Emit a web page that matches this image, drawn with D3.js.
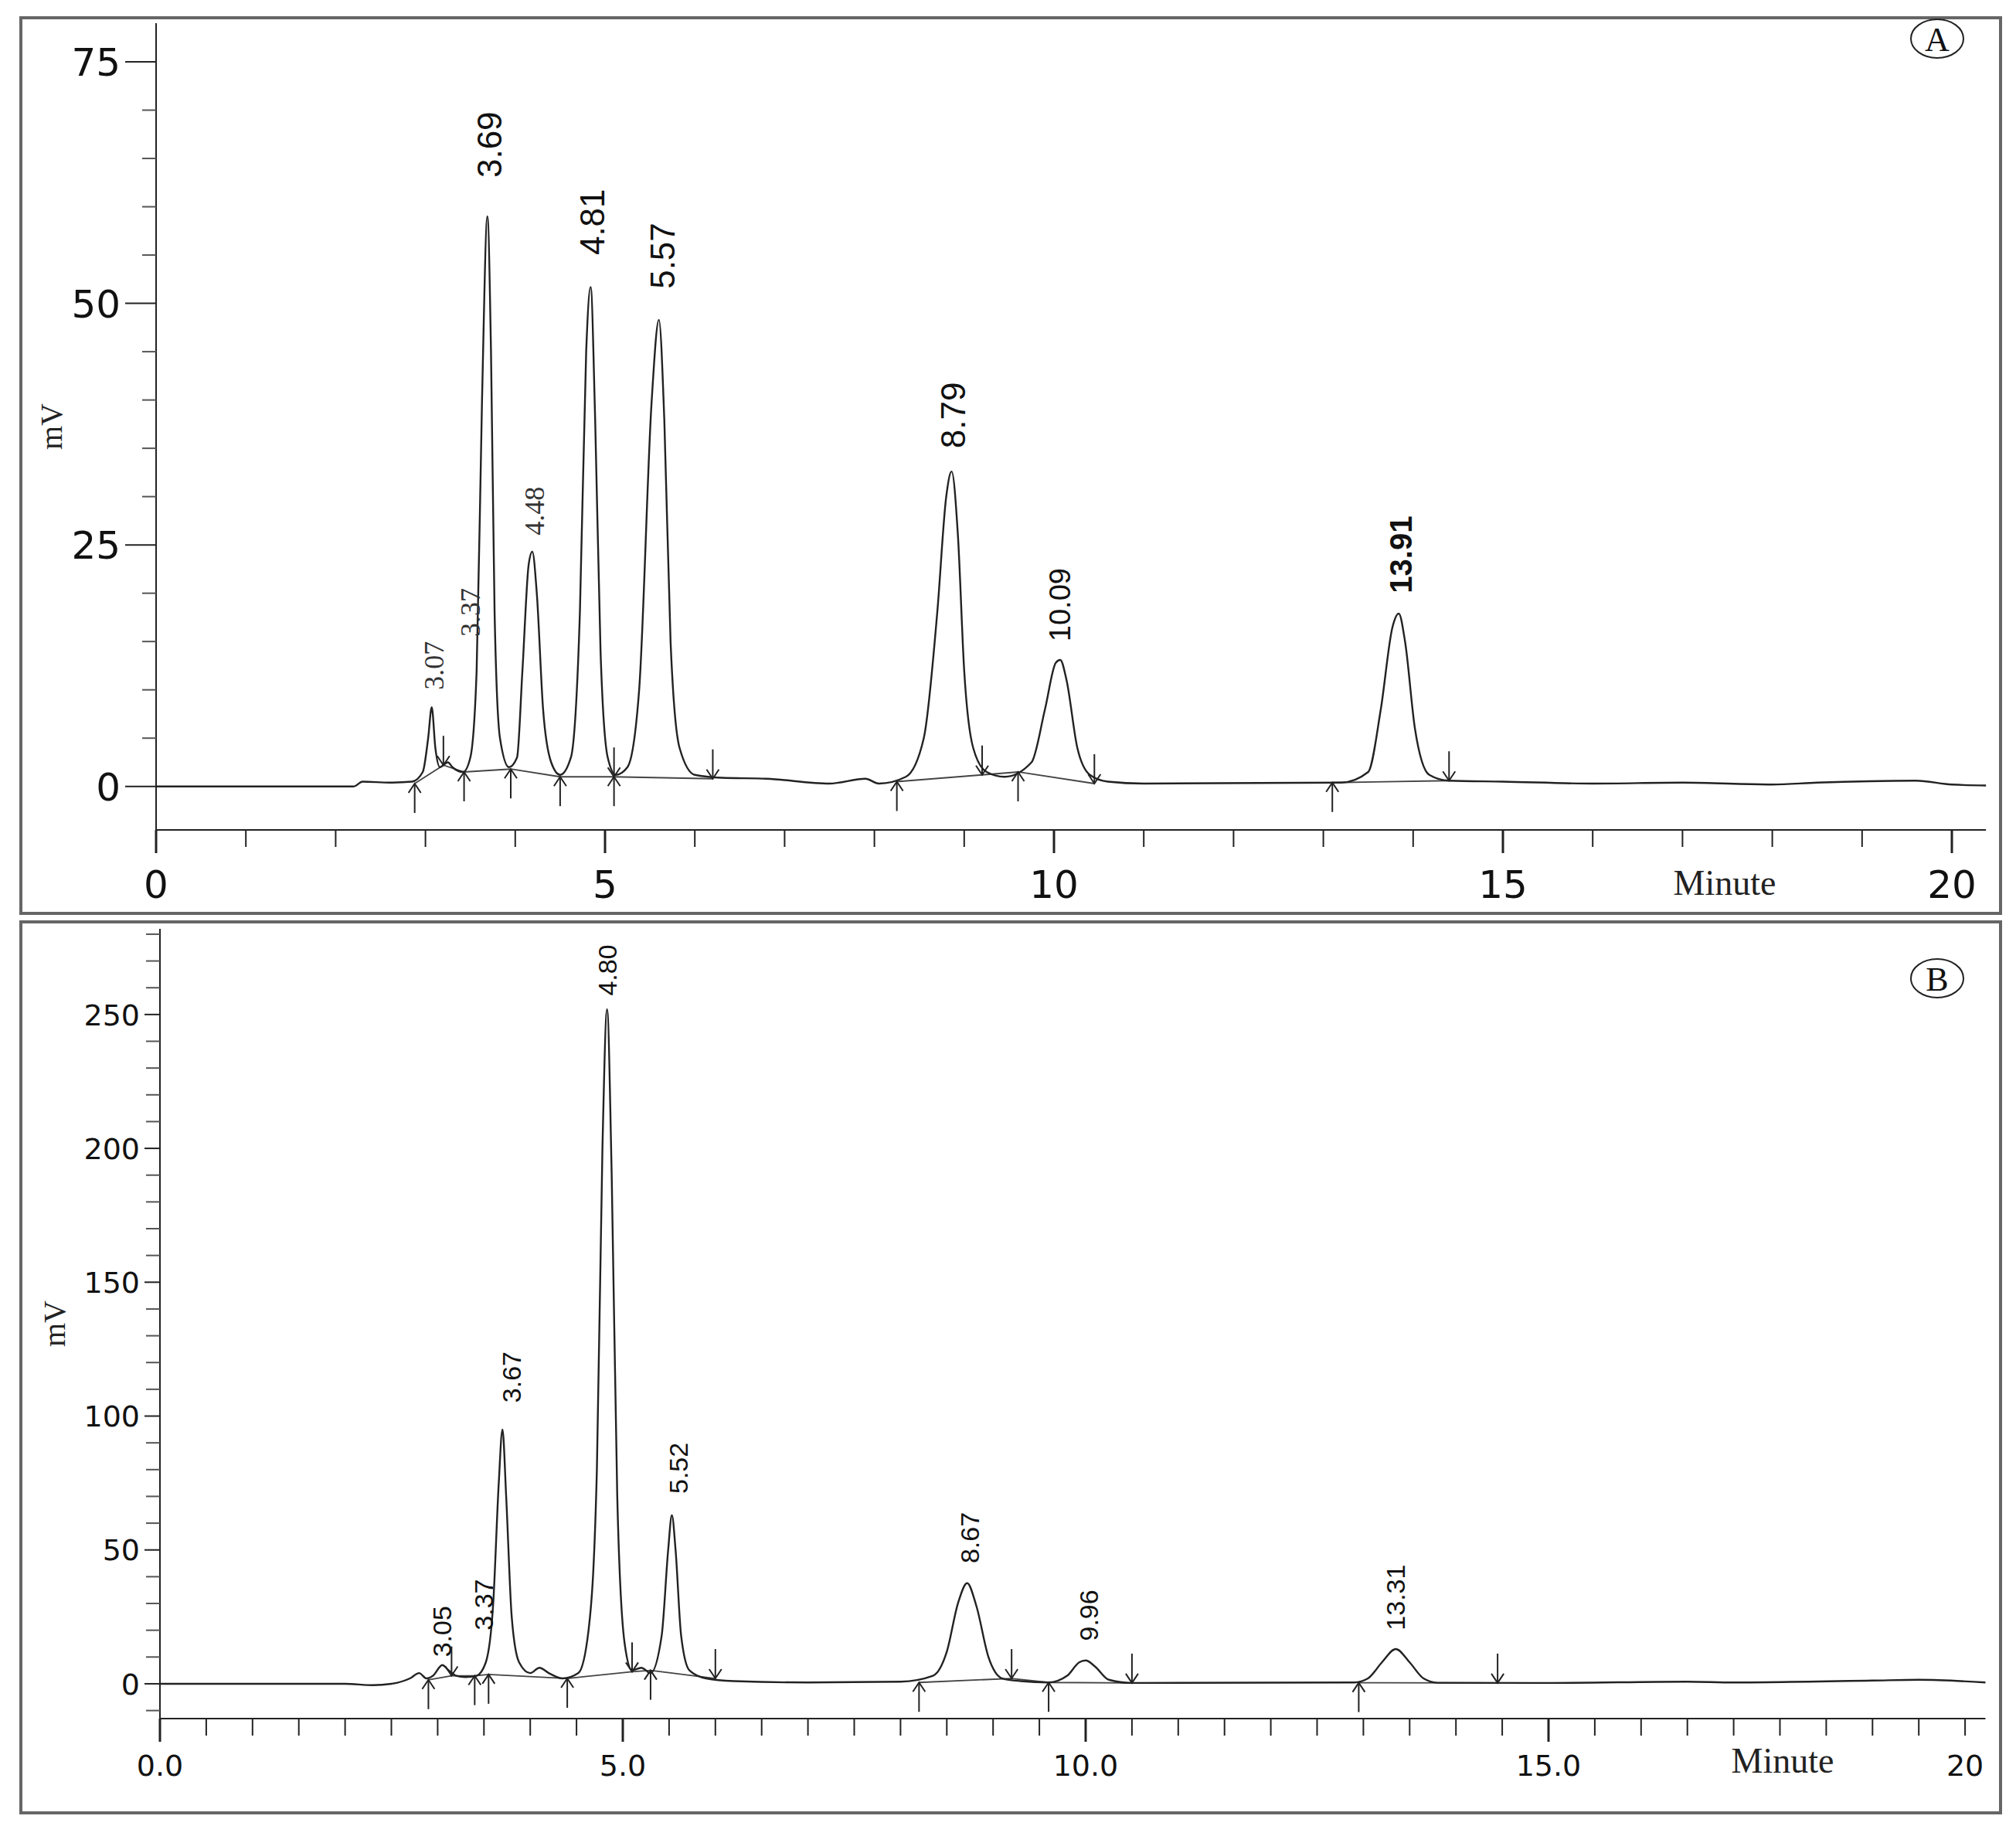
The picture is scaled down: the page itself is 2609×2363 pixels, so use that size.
<!DOCTYPE html>
<html><head><meta charset="utf-8">
<script src="https://cdn.jsdelivr.net/npm/d3@7"></script>
<style>body{margin:0;background:#fff}</style></head>
<body><svg id="c" width="2609" height="2363"></svg>
<script>
// ---------- DATA ----------
const traceA = [[0,0],[2.2,0],[2.3,0.5],[2.6,0.4],[2.85,0.5],[2.97,1.5],[3.03,5],[3.07,8.2],[3.11,4],[3.16,2],[3.25,2.5],[3.3,2],[3.42,1.5],[3.5,3],[3.57,12],[3.63,40],[3.69,59],[3.73,45],[3.77,18],[3.83,5],[3.93,2],[4.02,3],[4.08,12],[4.15,23],[4.19,24.3],[4.24,20],[4.31,8],[4.4,2.5],[4.5,1.2],[4.62,3],[4.72,18],[4.79,45],[4.84,51.7],[4.89,38],[4.95,14],[5.03,3],[5.12,1.2],[5.25,2],[5.38,10],[5.52,40],[5.6,48.3],[5.66,38],[5.73,15],[5.83,4],[6.0,1.2],[6.3,0.9],[6.8,0.8],[7.5,0.3],[7.9,0.8],[8.05,0.3],[8.35,1],[8.55,5],[8.7,18],[8.8,30],[8.86,32.6],[8.93,26],[9.0,12],[9.1,4],[9.25,1.5],[9.45,1],[9.75,2.5],[9.9,8],[10.02,12.8],[10.07,13.1],[10.14,11],[10.26,4],[10.4,1.2],[10.6,0.5],[11,0.3],[13.2,0.4],[13.5,1.5],[13.64,8],[13.77,16.5],[13.84,17.9],[13.91,15],[14.02,6],[14.18,1.2],[14.4,0.6],[15,0.5],[16,0.3],[17,0.4],[18,0.2],[18.5,0.4],[19.6,0.6],[20,0.2],[20.38,0.1]];
const traceB = [[0,0],[2,0],[2.3,-0.5],[2.5,0],[2.7,2],[2.8,4],[2.88,2],[2.95,3],[3.05,7],[3.12,5],[3.2,3],[3.3,2.5],[3.42,3],[3.52,8],[3.6,30],[3.66,75],[3.70,95],[3.74,70],[3.8,25],[3.88,8],[4.0,4],[4.1,6],[4.2,4],[4.35,2],[4.52,4],[4.63,20],[4.72,80],[4.78,200],[4.83,252],[4.88,190],[4.94,70],[5.02,15],[5.1,5],[5.2,6],[5.3,4],[5.42,18],[5.49,50],[5.53,63],[5.57,50],[5.63,18],[5.72,5],[5.9,2],[6.2,1],[7,0.5],[8,0.8],[8.35,3],[8.5,12],[8.62,30],[8.72,37.6],[8.82,29],[8.95,10],[9.1,2],[9.3,1],[9.6,0.5],[9.8,3],[9.93,8],[10.0,8.7],[10.1,6.5],[10.25,1.5],[10.5,0.3],[12.9,0.5],[13.05,2],[13.2,8],[13.35,13],[13.5,8],[13.65,2],[13.8,0.4],[15,0.3],[16.5,0.8],[17,0.5],[18.5,1.2],[19,1.5],[19.72,0.5]];
// peak labels: [text, x(min), y-bottom(mV), style]
const labelsA = [["3.07",3.09,10,"serif"],["3.37",3.5,15.5,"serif"],["3.69",3.71,63,"sans"],["4.48",4.21,26,"serif"],["4.81",4.86,55,"sans"],["5.57",5.64,51.5,"sans"],["8.79",8.88,35,"sans"],["10.09",10.07,15,"sansS"],["13.91",13.86,20,"bold"]];
const labelsB = [["3.05",3.05,10,"b"],["3.37",3.5,20,"b"],["3.67",3.8,105,"b"],["4.80",4.83,257,"b"],["5.52",5.6,71,"b"],["8.67",8.75,45,"b"],["9.96",10.03,16,"b"],["13.31",13.35,20,"b"]];
const upA=[[2.88,0.3],[3.43,1.5],[3.95,1.8],[4.5,1.0],[5.1,1.0],[8.25,0.5],[9.6,1.5],[13.1,0.4]];
const downA=[[3.2,2.2],[5.1,1.0],[6.2,0.8],[9.2,1.2],[10.45,0.3],[14.4,0.6]];
const upB=[[2.9,1.5],[3.4,3],[3.55,3.5],[4.4,2],[5.3,5],[8.2,0.5],[9.6,0.5],[12.95,0.4]];
const downB=[[3.15,3],[5.1,4.5],[6.0,2],[9.2,2],[10.5,0.3],[14.45,0.3]];
const baseA=[[[2.88,0.3],[3.2,2.2],[3.43,1.5],[3.95,1.8],[4.5,1.0],[5.1,1.0],[6.2,0.8]],[[8.25,0.5],[9.2,1.2],[9.6,1.5],[10.45,0.3]],[[13.1,0.4],[14.4,0.6]]];
const baseB=[[[2.9,1.5],[3.15,3],[3.4,3],[3.55,3.5],[4.4,2],[5.1,4.5],[5.3,5],[6.0,2]],[[8.2,0.5],[9.2,2],[9.6,0.5],[10.5,0.3]],[[12.95,0.4],[14.45,0.3]]];
const yTicksA=[0,25,50,75], xTicksA=[0,5,10,15,20];
const yTicksB=[0,50,100,150,200,250], xTicksB=[0,5,10,15];
// ---------- DRAW ----------
const svg=d3.select("#c");
const col="#222";
function panel(o){
  const g=svg.append("g");
  g.append("rect").attr("x",o.frame[0]).attr("y",o.frame[1]).attr("width",o.frame[2]-o.frame[0]).attr("height",o.frame[3]-o.frame[1]).attr("fill","none").attr("stroke","#666").attr("stroke-width",4);
  const x=d3.scaleLinear().domain(o.xd).range(o.xr), y=d3.scaleLinear().domain(o.yd).range(o.yr);
  g.append("line").attr("x1",x(o.xd[0])).attr("x2",x(o.xd[0])).attr("y1",y(o.yd[0])).attr("y2",y(o.yd[1])).attr("stroke",col).attr("stroke-width",2);
  g.append("line").attr("x1",x(o.xd[0])).attr("x2",x(o.xd[1])).attr("y1",y(o.yd[0])).attr("y2",y(o.yd[0])).attr("stroke",col).attr("stroke-width",2);
  d3.range(0,o.yd[1],o.yMinor).forEach(v=>{const maj=o.yTicks.includes(v);
    g.append("line").attr("x1",x(0)).attr("x2",x(0)-(maj?o.yMajLen:18)).attr("y1",y(v)).attr("y2",y(v)).attr("stroke",maj?col:"#555").attr("stroke-width",2);});
  d3.range(-o.yMinor,o.yd[0],-o.yMinor).forEach(v=>g.append("line").attr("x1",x(0)).attr("x2",x(0)-18).attr("y1",y(v)).attr("y2",y(v)).attr("stroke","#555").attr("stroke-width",2));
  o.yTicks.forEach(v=>g.append("text").attr("x",x(0)-o.yMajLen-6).attr("y",y(v)).attr("dy","0.36em").attr("text-anchor","end").attr("font-family",o.tickFont).attr("font-size",o.tickFs).attr("fill","#111").text(v));
  d3.range(0,o.xd[1],o.xMinor).forEach(v=>{const maj=Math.abs(v%5)<1e-6;
    g.append("line").attr("x1",x(v)).attr("x2",x(v)).attr("y1",y(o.yd[0])).attr("y2",y(o.yd[0])+(maj?30:22)).attr("stroke",col).attr("stroke-width",maj?3:2);});
  o.xTicks.forEach(v=>g.append("text").attr("x",x(v)).attr("y",o.xLabY).attr("text-anchor","middle").attr("font-family",o.tickFont).attr("font-size",o.tickFs).attr("fill","#111").text(o.fmt(v)));
  if(o.extra) g.append("text").attr("x",x(o.extra[0])).attr("y",o.xLabY).attr("text-anchor","middle").attr("font-family",o.tickFont).attr("font-size",o.tickFs).attr("fill","#111").text(o.extra[1]);
  g.append("text").attr("x",o.minuteX).attr("y",o.xLabY-4).attr("text-anchor","middle").attr("font-family","Liberation Serif, Times New Roman").attr("font-size",46).attr("fill","#222").text("Minute");
  g.append("text").attr("transform",`translate(${o.mvX},${(o.yr[0]+o.yr[1])/2}) rotate(-90)`).attr("text-anchor","middle").attr("font-family","Liberation Serif, Times New Roman").attr("font-size",40).attr("fill","#222").text("mV");
  g.append("ellipse").attr("cx",o.letter[0]).attr("cy",o.letter[1]).attr("rx",34).attr("ry",25).attr("fill","none").attr("stroke","#222").attr("stroke-width",2);
  g.append("text").attr("x",o.letter[0]).attr("y",o.letter[1]).attr("dy","0.36em").attr("text-anchor","middle").attr("font-family","Liberation Serif, Times New Roman").attr("font-size",44).attr("fill","#111").text(o.letter[2]);
  const line=d3.line().x(d=>x(d[0])).y(d=>y(d[1])).curve(d3.curveMonotoneX);
  o.base.forEach(b=>g.append("path").attr("d",d3.line().x(d=>x(d[0])).y(d=>y(d[1]))(b)).attr("fill","none").attr("stroke","#444").attr("stroke-width",1.8));
  g.append("path").attr("d",line(o.trace)).attr("fill","none").attr("stroke",col).attr("stroke-width",2.4);
  const arrow=(px,py,dir)=>{
    const L=38, tipY=py, tailY=py+dir*L;
    g.append("line").attr("x1",px).attr("x2",px).attr("y1",tipY).attr("y2",tailY).attr("stroke",col).attr("stroke-width",2);
    g.append("path").attr("d",`M${px-8},${tipY+dir*12}L${px},${tipY}L${px+8},${tipY+dir*12}`).attr("fill","none").attr("stroke",col).attr("stroke-width",2);};
  o.up.forEach(d=>arrow(x(d[0]),y(d[1]),1));
  o.down.forEach(d=>arrow(x(d[0]),y(d[1]),-1));
  o.labels.forEach(d=>{const st=o.lstyle[d[3]];
    g.append("text").attr("transform",`translate(${x(d[1])},${y(d[2])}) rotate(-90)`).attr("dy","0.35em").attr("font-family",st.f).attr("font-size",st.s).attr("font-weight",st.w||"normal").attr("fill",st.c||"#111").attr("font-stretch","condensed").text(d[0]);});
}
panel({frame:[27,23,2589,1182],xd:[0,20.38],xr:[202,202+20.38*116.2],yd:[-4.5,79],yr:[1074,30],
  yTicks:yTicksA,yMinor:5,yMajLen:40,xTicks:xTicksA,xMinor:1,tickFs:50,tickFont:"DejaVu Sans, Verdana",xLabY:1162,fmt:v=>v,
  minuteX:2232,mvX:80,letter:[2507,50,"A"],trace:traceA,base:baseA,up:upA,down:downA,labels:labelsA,
  lstyle:{serif:{f:"Liberation Serif",s:36,c:"#333"},sans:{f:"Liberation Sans Narrow, Liberation Sans",s:44},sansS:{f:"Liberation Sans Narrow, Liberation Sans",s:38},bold:{f:"Liberation Sans Narrow, Liberation Sans",s:40,w:"bold"}}});
panel({frame:[27,1193,2589,2346],xd:[0,19.72],xr:[207,207+19.72*119.8],yd:[-13,282],yr:[2224,1202],
  yTicks:yTicksB,yMinor:10,yMajLen:20,xTicks:xTicksB,xMinor:0.5,tickFs:38,tickFont:"DejaVu Sans, Verdana",xLabY:2298,fmt:v=>v.toFixed(1),extra:[19.5,"20"],
  minuteX:2307,mvX:84,letter:[2507,1266,"B"],trace:traceB,base:baseB,up:upB,down:downB,labels:labelsB,
  lstyle:{b:{f:"Liberation Sans Narrow, Liberation Sans",s:34}}});
</script></body></html>
